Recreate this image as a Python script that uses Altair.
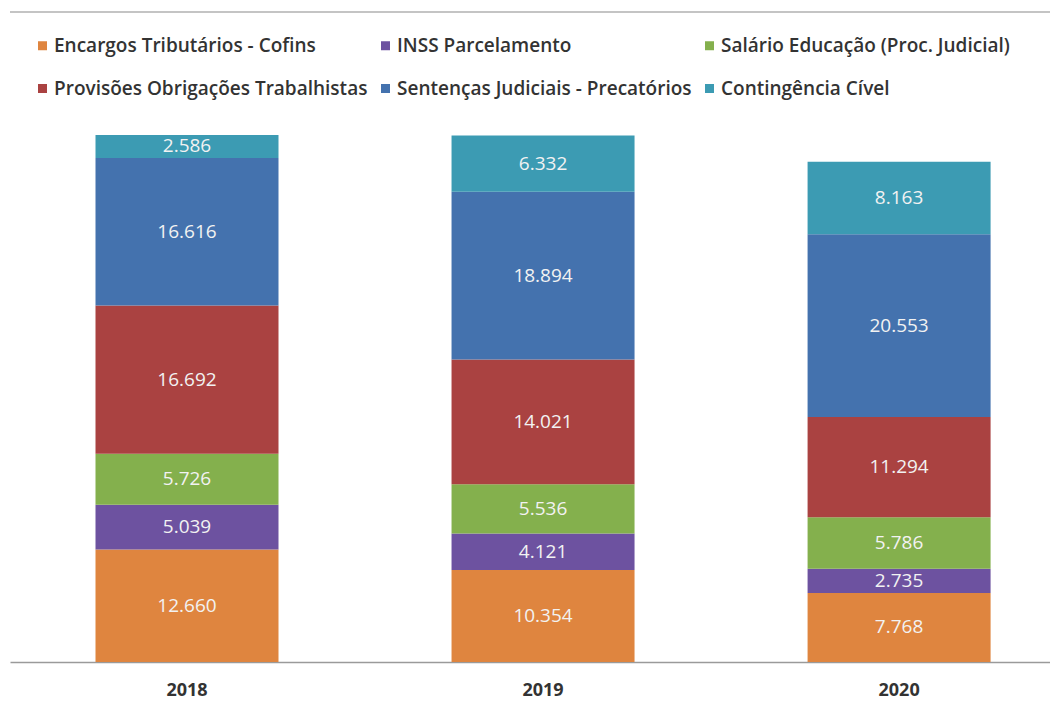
import altair as alt
import pandas as pd

years = ["2018", "2019", "2020"]
series = [
    "Encargos Tributários - Cofins",
    "INSS Parcelamento",
    "Salário Educação (Proc. Judicial)",
    "Provisões Obrigações Trabalhistas",
    "Sentenças Judiciais - Precatórios",
    "Contingência Cível",
]
colors = ["#DF853F", "#6D52A0", "#84B04D", "#AA4241", "#4472AE", "#3C9BB3"]
encargos = [12660, 10354, 7768]
inss = [5039, 4121, 2735]
salario = [5726, 5536, 5786]
provisoes = [16692, 14021, 11294]
sentencas = [16616, 18894, 20553]
contingencia = [2586, 6332, 8163]

values = [encargos, inss, salario, provisoes, sentencas, contingencia]
rows = []
for si, (name, vals) in enumerate(zip(series, values)):
    for yi, y in enumerate(years):
        v = vals[yi]
        rows.append({"year": y, "series": name, "idx": si, "value": v,
                     "label": f"{v:,}".replace(",", ".")})
df = pd.DataFrame(rows)

FONT = "Open Sans"
W, H = 1040, 542

base = alt.Chart(df).transform_stack(
    stack="value", groupby=["year"], sort=[{"field": "idx", "order": "ascending"}],
    as_=["y0", "y1"]
).transform_calculate(mid="(datum.y0 + datum.y1) / 2")

xenc = alt.X("year:N", title=None, sort=years,
             scale=alt.Scale(paddingInner=0.486, paddingOuter=0.2035, align=0.59),
             axis=alt.Axis(labelAngle=0, ticks=False, domainColor="#9a9a9a", domainWidth=1.5,
                           labelFont=FONT, labelFontSize=18, labelFontWeight="bold",
                           labelColor="#333333", labelPadding=19))
yscale = alt.Scale(domain=[0, 61000], nice=False)

bars = base.mark_bar().encode(
    x=xenc,
    y=alt.Y("y0:Q", scale=yscale, axis=None),
    y2="y1:Q",
    color=alt.Color("series:N", sort=series,
                    scale=alt.Scale(domain=series, range=colors),
                    legend=alt.Legend(title=None, orient="none", legendX=23, legendY=-84,
                                      direction="horizontal", columns=3, padding=0,
                                      symbolType="square", symbolSize=81,
                                      symbolStrokeWidth=0, symbolOpacity=1,
                                      labelFont=FONT, labelFontSize=19, labelFontWeight=600,
                                      labelColor="#333333", labelLimit=0,
                                      columnPadding=8, rowPadding=23, labelOffset=2)),
)

text = base.mark_text(font=FONT, fontSize=19, color="#f2f2f2").encode(
    x=alt.X("year:N", sort=years),
    y=alt.Y("mid:Q", scale=yscale),
    text="label:N",
)

topline = alt.Chart(pd.DataFrame({"a": [0]})).mark_rule(color="#c4c4c4", strokeWidth=2).encode(
    x=alt.value(0), x2=alt.value(W + 8), y=alt.value(-108)
)

chart = alt.layer(bars, text, topline).properties(
    width=W, height=H, background="white",
    padding={"left": 2, "top": 112, "right": 0, "bottom": 40},
    autosize=alt.AutoSizeParams(type="none"),
).configure_view(strokeWidth=0, stroke="transparent")

chart.save("out.html", embed_options={"renderer": "svg", "actions": False})
